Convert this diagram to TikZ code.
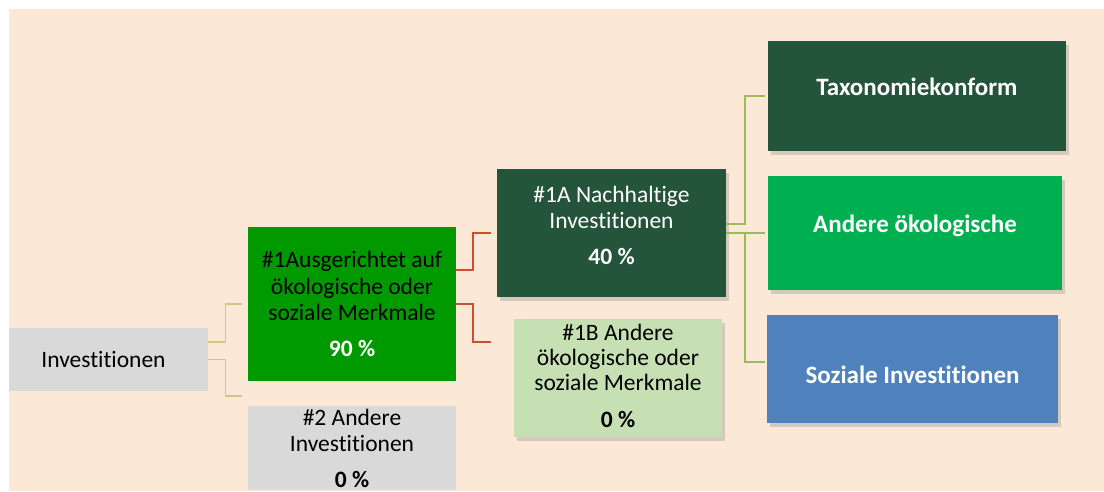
\documentclass[tikz,border=0pt]{standalone}
\usepackage{fontspec}
\setmainfont{Carlito}[Ligatures=NoCommon]
\usetikzlibrary{shadows}
\definecolor{peach}{HTML}{FBE8D7}
\definecolor{boxgray}{HTML}{D9D9D9}
\definecolor{brightgreen}{HTML}{009A00}
\definecolor{darkgreen}{HTML}{245439}
\definecolor{lightgreen}{HTML}{C6E0B4}
\definecolor{midgreen}{HTML}{00B050}
\definecolor{socialblue}{HTML}{4F81BD}
\definecolor{tanline}{HTML}{D3C67E}
\definecolor{rustline}{HTML}{C8502E}
\definecolor{oliveline}{HTML}{9BBB59}

\begin{document}
\begin{tikzpicture}[x=1pt,y=-1pt,line join=miter,
  every node/.style={inner sep=2pt,align=center,font=\fontsize{23.5}{26.5}\selectfont},
  box/.style={fill=#1,draw=none},
  shadowbox/.style={fill=#1,draw=none,drop shadow={opacity=0.3,shadow xshift=3pt,shadow yshift=-4pt}},
  bigbold/.style={text=white,font=\fontsize{25}{30}\selectfont\bfseries},
  tanconn/.style={draw=tanline,line width=1.4pt},
  rustconn/.style={draw=rustline,line width=1.8pt},
  oliveconn/.style={draw=oliveline,line width=2pt}]
  \useasboundingbox (0,0) rectangle (1104,491);
  \fill[peach] (9,9) rectangle (1104,491);
  \node[box=boxgray,minimum width=199pt,minimum height=63pt] (inv) at (108.5,359.5) {Investitionen\hspace*{10pt}};
  \node[box=brightgreen,minimum width=208pt,minimum height=154pt] (ausg) at (352,304)
    {\#1Ausgerichtet auf\\ökologische oder\\soziale Merkmale\\[9pt]\textcolor{white}{\textbf{90 \%}}};
  \node[box=boxgray,minimum width=208pt,minimum height=84pt] (andere) at (352,448)
    {\#2 Andere\\Investitionen\\[9pt]\textbf{0 \%}};
  \node[shadowbox=darkgreen,text=white,minimum width=229pt,minimum height=128pt] (nachh) at (611.5,233)
    {\#1A Nachhaltige\\Investitionen\\[9pt]\textbf{40 \%}\rule[-16pt]{0pt}{0pt}};
  \node[shadowbox=lightgreen,minimum width=208pt,minimum height=118pt,font=\fontsize{23.5}{25}\selectfont] (merk) at (618,378)
    {\#1B Andere\\ökologische oder\\soziale Merkmale\\[12pt]\textbf{0 \%}\rule[-4pt]{0pt}{0pt}};
  \node[shadowbox=darkgreen,bigbold,minimum width=298pt,minimum height=110pt] (taxo) at (917,96)
    {\raisebox{1pt}[0pt][0pt]{Taxonomiekonform}};
  \node[shadowbox=midgreen,bigbold,minimum width=294pt,minimum height=114pt] (oeko) at (915,233)
    {\raisebox{1pt}[0pt][0pt]{Andere ökologische}};
  \node[shadowbox=socialblue,bigbold,minimum width=291pt,minimum height=108pt] (sozi) at (912.5,369)
    {\raisebox{-14pt}[0pt][0pt]{Soziale Investitionen}};
  \draw[tanconn] ([yshift=17.5pt]inv.east) -- ++(17,0) |- ([xshift=-6pt]ausg.west);
  \draw[tanconn] (inv.east) -- ++(17,0) |- ([xshift=-6pt,yshift=10pt]andere.north west);
  \draw[rustconn] ([yshift=34pt]ausg.east) -- ++(17,0) |- ([xshift=-6pt]nachh.west);
  \draw[rustconn] (ausg.east) -- ++(17,0) |- ([xshift=-23pt,yshift=36pt]merk.west);
  \draw[oliveconn] ([yshift=9pt]nachh.east) -- ++(19,0) |- ([xshift=-3pt]taxo.west);
  \draw[oliveconn] (nachh.east) -- ([xshift=-3pt]oeko.west);
  \draw[oliveconn] ([xshift=19pt]nachh.east) |- ([xshift=-2pt,yshift=7pt]sozi.west);
\end{tikzpicture}
\end{document}
